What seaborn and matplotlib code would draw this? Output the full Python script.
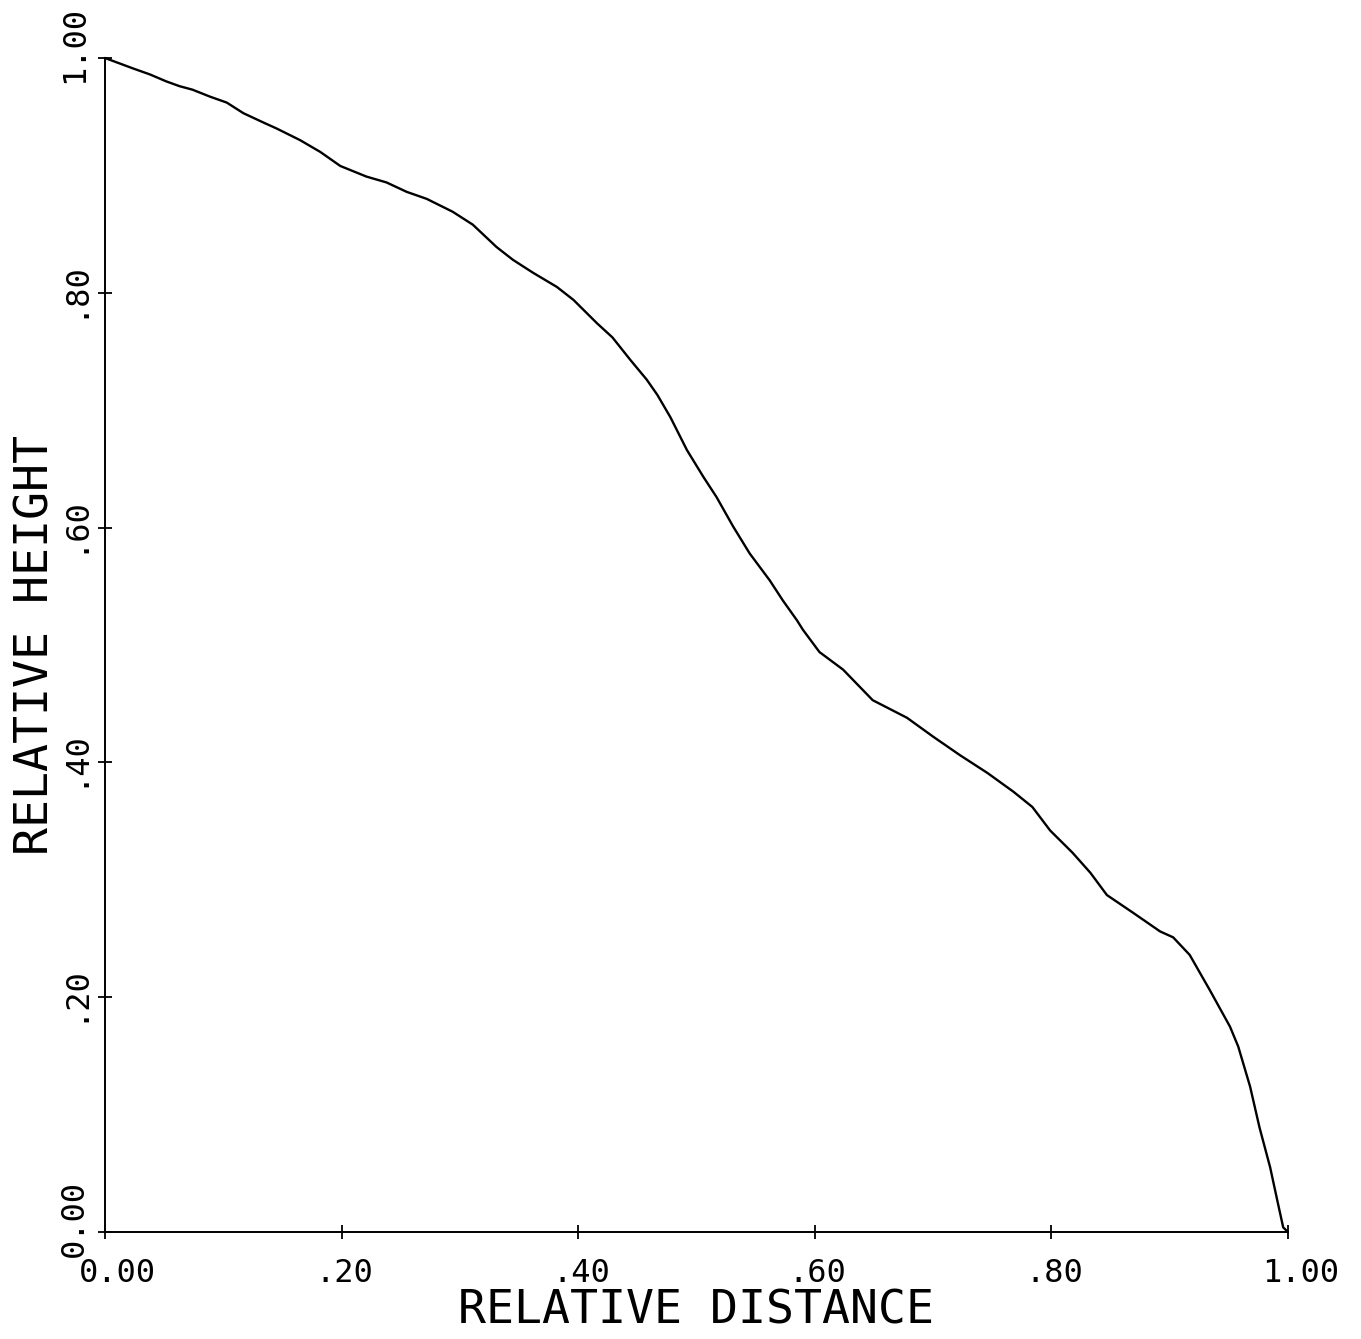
import matplotlib
matplotlib.use("Agg")
import matplotlib.pyplot as plt
import matplotlib.transforms as mtransforms
import pandas as pd
import seaborn as sns

# values
rel_distance = [
    0.000, 0.008, 0.024, 0.038, 0.052, 0.063, 0.074, 0.089, 0.103, 0.117,
    0.134, 0.145, 0.165, 0.182, 0.199, 0.221, 0.238, 0.255, 0.272, 0.294,
    0.311, 0.331, 0.345, 0.362, 0.382, 0.396, 0.407, 0.416, 0.429, 0.444,
    0.458, 0.467, 0.478, 0.492, 0.506, 0.517, 0.531, 0.545, 0.562, 0.573,
    0.585, 0.590, 0.604, 0.624, 0.649, 0.678, 0.700, 0.723, 0.746, 0.768,
    0.784, 0.799, 0.818, 0.833, 0.847, 0.869, 0.892, 0.903, 0.917, 0.934,
    0.951, 0.958, 0.968, 0.976, 0.985, 0.991, 0.996, 1.000,
]
rel_height = [
    1.000, 0.997, 0.991, 0.986, 0.980, 0.976, 0.973, 0.967, 0.962, 0.953,
    0.945, 0.940, 0.930, 0.920, 0.908, 0.899, 0.894, 0.886, 0.880, 0.869,
    0.858, 0.839, 0.828, 0.817, 0.805, 0.794, 0.783, 0.774, 0.762, 0.743,
    0.726, 0.713, 0.694, 0.666, 0.643, 0.626, 0.601, 0.578, 0.555, 0.538,
    0.521, 0.513, 0.494, 0.479, 0.453, 0.438, 0.422, 0.406, 0.391, 0.375,
    0.362, 0.342, 0.323, 0.306, 0.287, 0.272, 0.256, 0.251, 0.236, 0.206,
    0.175, 0.158, 0.124, 0.089, 0.055, 0.027, 0.004, 0.000,
]

tick_values = [0.0, 0.2, 0.4, 0.6, 0.8, 1.0]
x_tick_labels = ["0.00", ".20", ".40", ".60", ".80", "1.00"]
y_tick_labels = ["0.00", ".20", ".40", ".60", ".80", "1.00"]

sns.set_theme(style="ticks")
plt.rcParams["font.family"] = ["DejaVu Sans Mono", "DejaVu Sans"]
plt.rcParams["text.color"] = "black"
plt.rcParams["axes.edgecolor"] = "black"

fig = plt.figure(figsize=(13.61, 13.39), dpi=100)
ax = fig.add_axes([0.0771, 0.0799, 0.8692, 0.8768])

df = pd.DataFrame({"distance": rel_distance, "height": rel_height})
sns.lineplot(data=df, x="distance", y="height", color="black", linewidth=1.7,
             sort=False, ax=ax, clip_on=False)

ax.set_xlim(0, 1)
ax.set_ylim(0, 1)
sns.despine(ax=ax)
for side in ["left", "bottom"]:
    ax.spines[side].set_linewidth(1.4)
    ax.spines[side].set_color("black")

ax.set_xticks(tick_values, labels=x_tick_labels)
ax.set_yticks(tick_values, labels=y_tick_labels)
ax.tick_params(direction="inout", length=10, width=1.3, color="black",
               labelsize=23, labelcolor="black")
ax.tick_params(axis="x", pad=14)
ax.tick_params(axis="y", pad=6)

# plotter style: labels start just before the tick
for lab in ax.get_xticklabels():
    lab.set_ha("left")
    lab.set_transform(lab.get_transform() +
                      mtransforms.ScaledTranslation(-0.26, 0, fig.dpi_scale_trans))
for lab in ax.get_yticklabels():
    lab.set_rotation(90)
    lab.set_va("bottom")
    lab.set_ha("right")
    lab.set_transform(lab.get_transform() +
                      mtransforms.ScaledTranslation(0, -0.25, fig.dpi_scale_trans))

ax.set_xlabel("RELATIVE DISTANCE", fontsize=33.5, color="black")
ax.set_ylabel("RELATIVE HEIGHT", fontsize=33.5, color="black")
ax.xaxis.set_label_coords(0.5, -0.0481)
ax.yaxis.set_label_coords(-0.0389, 0.5)

fig.savefig("out.png", dpi=100, facecolor="white")
